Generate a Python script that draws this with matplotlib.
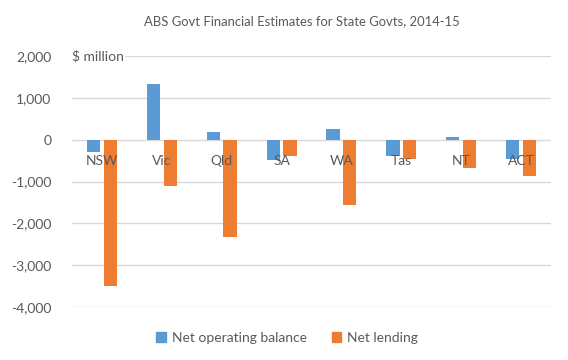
import matplotlib
matplotlib.use("Agg")
import matplotlib.pyplot as plt
import numpy as np
from matplotlib.patches import Patch

# data ($ million)
states = ["NSW", "Vic", "Qld", "SA", "WA", "Tas", "NT", "ACT"]
net_operating_balance = [-300, 1320, 175, -480, 245, -390, 55, -460]
net_lending = [-3490, -1100, -2320, -390, -1560, -460, -680, -870]
y_ticks = [-4000, -3000, -2000, -1000, 0, 1000, 2000]

BLUE = "#5B9BD5"
ORANGE = "#ED7D31"
TEXT = "#595959"
GRID = "#D9D9D9"

plt.rcParams["font.family"] = ["Lato", "DejaVu Sans"]

fig = plt.figure(figsize=(5.68, 3.6), dpi=100)
ax = fig.add_axes([72 / 568, 53 / 360, 479 / 568, 251 / 360])

x = np.arange(len(states))
w = 0.22
off = 0.14
ax.bar(x - off, net_operating_balance, w, color=BLUE, zorder=2)
ax.bar(x + off, net_lending, w, color=ORANGE, zorder=2)

ax.set_xlim(-0.5, len(states) - 0.5)
ax.set_ylim(-4000, 2000)
ax.set_yticks(y_ticks)
ax.set_yticklabels([f"{v:,}" for v in y_ticks], color=TEXT, fontsize=10)
ax.tick_params(axis="y", length=0, pad=15)
ax.set_xticks([])
ax.grid(axis="y", color=GRID, linewidth=1, zorder=0)
for s in ax.spines.values():
    s.set_visible(False)

for i, st in enumerate(states):
    ax.annotate(st, (i, 0), xytext=(0, -21), textcoords="offset pixels",
                ha="center", va="center", color=TEXT, fontsize=10, zorder=3)

ax.text(0, 2000, "$ million", transform=ax.get_yaxis_transform(), ha="left", va="center",
        color=TEXT, fontsize=10, zorder=3,
        bbox=dict(facecolor="white", edgecolor="none", pad=1))

fig.text(302 / 568, 1 - 21 / 360, "ABS Govt Financial Estimates for State Govts, 2014-15",
         ha="center", va="center", color=TEXT, fontsize=9.4)

handles = [Patch(color=BLUE, label="Net operating balance"),
           Patch(color=ORANGE, label="Net lending")]
fig.legend(handles=handles, loc="center", bbox_to_anchor=(287 / 568, 1 - 338 / 360),
           ncol=2, frameon=False, fontsize=10, labelcolor=TEXT,
           handlelength=0.7, handleheight=0.7, handletextpad=0.4, columnspacing=1.8)

fig.savefig("out.png", dpi=100)
